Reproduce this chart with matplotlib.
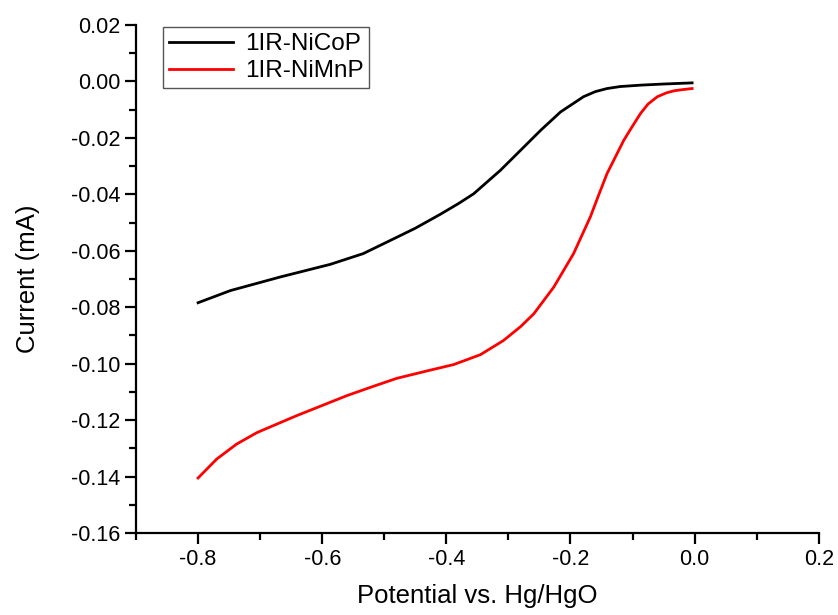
import matplotlib
matplotlib.use('Agg')
import matplotlib.pyplot as plt
from matplotlib.ticker import MultipleLocator, FormatStrFormatter

# 1IR-NiCoP (black)
nicop_x = [-0.80, -0.748, -0.668, -0.587, -0.534, -0.490, -0.45, -0.410, -0.38, -0.356, -0.313,
           -0.275, -0.248, -0.216, -0.179, -0.16, -0.141, -0.12, -0.087, -0.05, -0.004]
nicop_y = [-0.0784, -0.0741, -0.0693, -0.0648, -0.0610, -0.0563, -0.0520, -0.0471, -0.0432, -0.0398, -0.0315,
           -0.0232, -0.0173, -0.0108, -0.0054, -0.0036, -0.0025, -0.0018, -0.0013, -0.0009, -0.0005]

# 1IR-NiMnP (red)
nimnp_x = [-0.80, -0.770, -0.738, -0.705, -0.641, -0.560, -0.520, -0.480, -0.430, -0.388, -0.345, -0.308,
           -0.280, -0.259, -0.227, -0.195, -0.168, -0.155, -0.141, -0.114, -0.10, -0.087, -0.075,
           -0.060, -0.045, -0.033, -0.02, -0.004]
nimnp_y = [-0.1405, -0.1338, -0.1285, -0.1244, -0.1184, -0.1113, -0.1082, -0.1052, -0.1025, -0.1003, -0.0968, -0.0918,
           -0.0868, -0.0823, -0.0729, -0.0610, -0.0480, -0.0405, -0.0326, -0.0208, -0.0158, -0.0113, -0.0080,
           -0.0054, -0.0040, -0.0033, -0.0029, -0.0025]

plt.rcParams['font.family'] = ['Liberation Sans', 'DejaVu Sans']
plt.rcParams['axes.unicode_minus'] = False

fig = plt.figure(figsize=(8.38, 6.15), dpi=100)
ax = fig.add_axes([0.1623, 0.1333, 0.8147, 0.826])

ax.plot(nicop_x, nicop_y, color='black', lw=2, label='1IR-NiCoP')
ax.plot(nimnp_x, nimnp_y, color='red', lw=2, label='1IR-NiMnP')

ax.set_xlim(-0.9, 0.2)
ax.set_ylim(-0.16, 0.02)
ax.xaxis.set_major_locator(MultipleLocator(0.2))
ax.xaxis.set_minor_locator(MultipleLocator(0.1))
ax.yaxis.set_major_locator(MultipleLocator(0.02))
ax.yaxis.set_minor_locator(MultipleLocator(0.01))
ax.xaxis.set_major_formatter(FormatStrFormatter('%.1f'))
ax.yaxis.set_major_formatter(FormatStrFormatter('%.2f'))

ax.spines['top'].set_visible(False)
ax.spines['right'].set_visible(False)
ax.spines['left'].set_linewidth(1.6)
ax.spines['bottom'].set_linewidth(1.6)
ax.tick_params(which='major', direction='out', length=8, width=1.6, labelsize=15.5)
ax.tick_params(which='minor', direction='out', length=5, width=1.6)

ax.set_xlabel('Potential vs. Hg/HgO', fontsize=18.5, labelpad=10)
ax.set_ylabel('Current (mA)', fontsize=18.5, labelpad=22)

leg = ax.legend(loc='upper left', bbox_to_anchor=(0.04, 0.996), borderaxespad=0,
                fontsize=17.5, fancybox=False, edgecolor='#555555', framealpha=1,
                handlelength=2.6, handletextpad=0.5, borderpad=0.25, labelspacing=0.2)
leg.get_frame().set_linewidth(1.0)

fig.savefig('out.png', dpi=100)
